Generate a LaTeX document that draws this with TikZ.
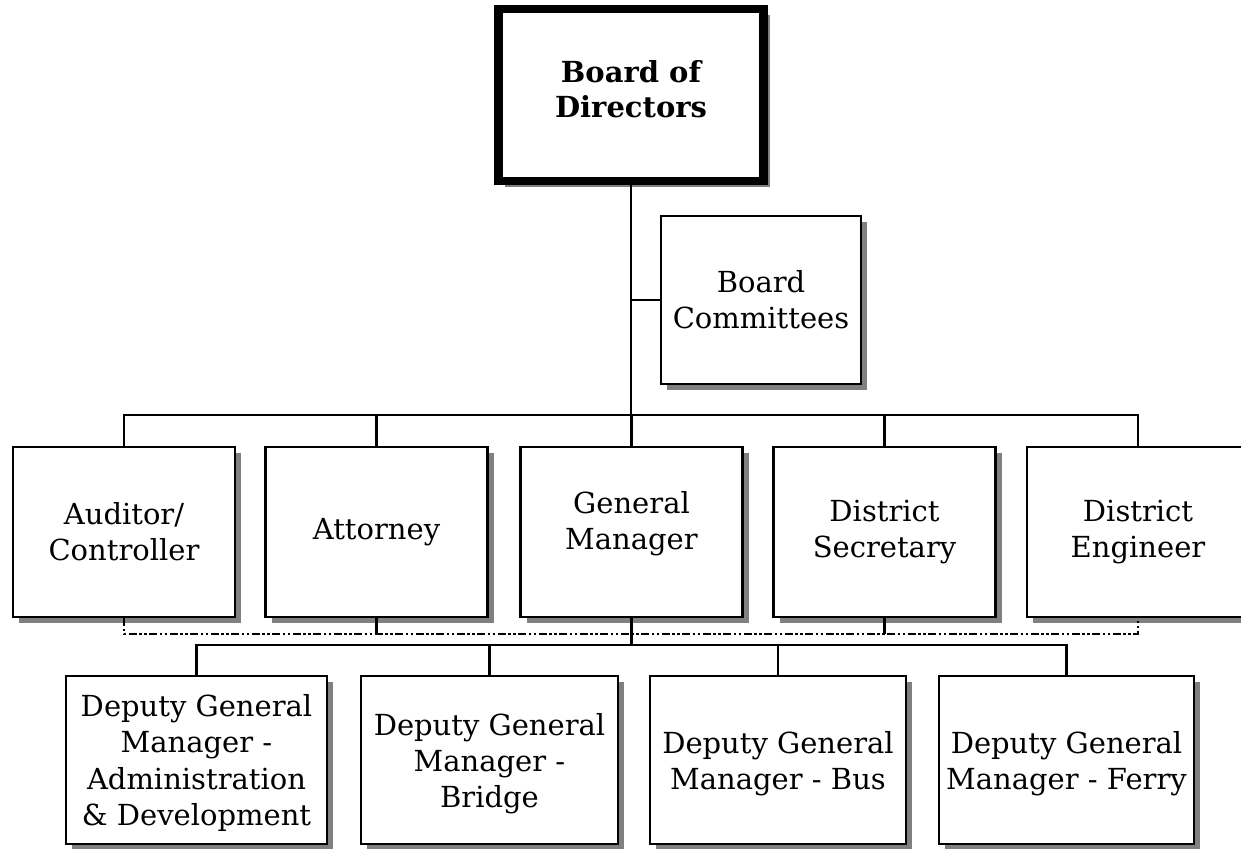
\documentclass[tikz,border=0pt]{standalone}
\usepackage{fontspec}
\setmainfont{DejaVu Serif}
\usetikzlibrary{shadows}
\begin{document}
\begin{tikzpicture}[x=1pt,y=-1pt,
  txt/.style={align=center, inner sep=0pt, font=\fontsize{29}{36}\selectfont},
  box/.style={draw=black, fill=white, line width=2.6pt, inner sep=0pt,
    drop shadow={shadow xshift=6pt, shadow yshift=-6pt, fill=black!50, opacity=1}},
  rowtwo/.style={box, minimum width=222pt, minimum height=170pt},
  rowthree/.style={box, minimum height=168pt},
  conn/.style={draw=black, line width=2.2pt},
  dashdotdot/.style={draw=black, line width=2pt,
    dash pattern=on 8pt off 2.5pt on 2.5pt off 2.5pt on 2.5pt off 2.5pt}]
\useasboundingbox (0,0) rectangle (1241,848);
\fill[white] (0,0) rectangle (1241,848);

\coordinate (bus) at (631,415);
\coordinate (dotl) at (631,634);
\coordinate (bus3) at (631,645);

% nodes
\node[box, line width=8.5pt, minimum width=265pt, minimum height=172pt,
      label={[txt, font=\fontsize{29}{35}\selectfont\bfseries, yshift=6pt]center:{Board of\\Directors}}] (bod) at (631,95) {};
\node[box, minimum width=200pt, minimum height=168pt,
      label={[txt]center:{Board\\Committees}}] (bc) at (761,300) {};

\node[rowtwo, label={[txt]center:{Auditor/\\Controller}}] (aud) at (124,532) {};
\node[rowtwo, label={[txt]center:{Attorney}}] (att) at (376.5,532) {};
\node[rowtwo, label={[txt, yshift=8pt]center:{General\\Manager}}] (gm) at (631.5,532) {};
\node[rowtwo, label={[txt]center:{District\\Secretary}}] (sec) at (884.5,532) {};
\node[rowtwo, label={[txt]center:{District\\Engineer}}] (eng) at (1138,532) {};

\node[rowthree, minimum width=261pt,
      label={[txt, font=\fontsize{29}{36.5}\selectfont, yshift=-3pt]center:{Deputy General\\Manager -\\Administration\\\& Development}}] (adm) at (196.5,760) {};
\node[rowthree, minimum width=257pt,
      label={[txt, yshift=-4pt]center:{Deputy General\\Manager -\\Bridge}}] (brg) at (489.5,760) {};
\node[rowthree, minimum width=256pt,
      label={[txt, yshift=-4pt]center:{Deputy General\\Manager - Bus}}] (bus2) at (778,760) {};
\node[rowthree, minimum width=255pt,
      label={[txt, yshift=-4pt]center:{Deputy General\\Manager - Ferry}}] (fer) at (1066.5,760) {};

% connectors
\draw[conn] (bod.south) -- (bod.south |- bus);
\draw[conn] (bc.west) -- (bc.west -| bod.south);
\draw[conn] (aud.north) -- (aud.north |- bus) -- (eng.north |- bus) -- (eng.north);
\draw[conn] (att.north) -- (att.north |- bus);
\draw[conn] (gm.north) -- (gm.north |- bus);
\draw[conn] (sec.north) -- (sec.north |- bus);

\draw[dashdotdot] (aud.south) -- (aud.south |- dotl) -- (eng.south |- dotl) -- (eng.south);
\draw[conn] (att.south) -- (att.south |- dotl);
\draw[conn] (sec.south) -- (sec.south |- dotl);

\draw[conn] (gm.south) -- (gm.south |- bus3);
\draw[conn] (adm.north) -- (adm.north |- bus3) -- (fer.north |- bus3) -- (fer.north);
\draw[conn] (brg.north) -- (brg.north |- bus3);
\draw[conn] (bus2.north) -- (bus2.north |- bus3);
\end{tikzpicture}
\end{document}
